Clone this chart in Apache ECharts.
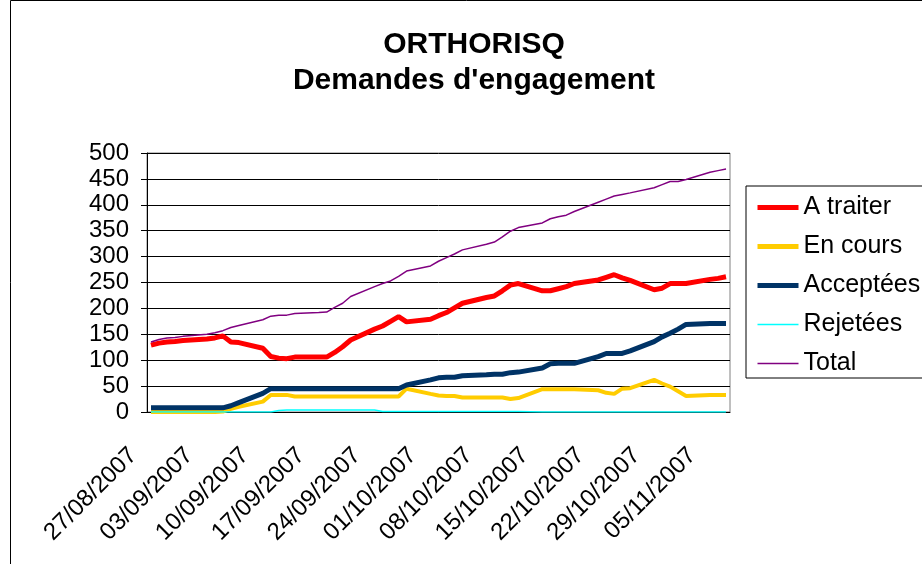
<!DOCTYPE html>
<html>
<head>
<meta charset="utf-8">
<script src="https://cdn.jsdelivr.net/npm/echarts@6/dist/echarts.min.js"></script>
<style>
html, body { margin: 0; padding: 0; background: #fff; }
#chart { width: 922px; height: 564px; }
</style>
</head>
<body>
<div id="chart"></div>
<script>
// one category per day, 27/08/2007 -> 07/11/2007 ; weekends have no value (null)
const startDay = Date.UTC(2007, 7, 27);
const nbDays = 73;
const dates = [];
for (let i = 0; i < nbDays; i++) {
    const d = new Date(startDay + i * 86400000);
    const dd = String(d.getUTCDate()).padStart(2, '0');
    const mm = String(d.getUTCMonth() + 1).padStart(2, '0');
    dates.push(dd + '/' + mm + '/' + d.getUTCFullYear());
}

const seriesNames = ['A traiter', 'En cours', 'Acceptées', 'Rejetées', 'Total'];

const aTraiter = [
    129, 133, 135, 136, 138, null, null,
    141, 143, 147, 135, 134, null, null,
    123, 107, 104, 103, 106, null, null,
    106, 106, 115, 126, 139, null, null,
    160, 166, 175, 184, 174, null, null,
    179, 186, 192, 201, 210, null, null,
    221, 224, 234, 245, 248, null, null,
    234, 234, 238, 242, 248, null, null,
    255, 260, 265, 259, 254, null, null,
    236, 239, 248, 248, 248, null, null,
    256, 258, 261
];
const enCours = [
    0, 0, 0, 0, 0, null, null,
    0, 0, 1, 6, 10, null, null,
    20, 33, 33, 33, 30, null, null,
    30, 30, 30, 30, 30, null, null,
    30, 30, 30, 30, 45, null, null,
    35, 32, 31, 31, 28, null, null,
    28, 28, 28, 25, 27, null, null,
    44, 44, 44, 44, 44, null, null,
    42, 37, 35, 45, 46, null, null,
    62, 55, 49, 40, 31, null, null,
    33, 33, 33
];
const acceptees = [
    8, 8, 8, 8, 8, null, null,
    8, 8, 8, 12, 18, null, null,
    36, 45, 45, 45, 45, null, null,
    45, 45, 45, 45, 45, null, null,
    45, 45, 45, 45, 52, null, null,
    62, 66, 67, 67, 70, null, null,
    72, 73, 73, 76, 77, null, null,
    85, 93, 94, 94, 94, null, null,
    107, 113, 113, 113, 118, null, null,
    136, 145, 152, 160, 169, null, null,
    171, 171, 171
];
const rejetees = [
    0, 0, 0, 0, 0, null, null,
    0, 0, 0, 0, 0, null, null,
    0, 0, 3, 4, 4, null, null,
    4, 4, 4, 4, 4, null, null,
    4, 1, 1, 1, 1, null, null,
    1, 1, 1, 1, 1, null, null,
    1, 1, 1, 1, 1, null, null,
    0, 0, 0, 0, 0, null, null,
    0, 0, 0, 0, 0, null, null,
    0, 0, 0, 0, 0, null, null,
    0, 0, 0
];
const total = [
    135, 140, 143, 144, 146, null, null,
    150, 153, 157, 163, 167, null, null,
    178, 185, 187, 187, 190, null, null,
    192, 193, 202, 210, 223, null, null,
    242, 248, 253, 262, 272, null, null,
    282, 291, 298, 305, 313, null, null,
    324, 328, 338, 349, 356, null, null,
    365, 373, 377, 380, 387, null, null,
    405, 411, 417, 420, 423, null, null,
    433, 439, 445, 445, 449, null, null,
    463, 466, 469
];

const FONT = '"Liberation Sans", Arial, sans-serif';
const colors = ['#ff0000', '#ffcc00', '#003366', '#00ffff', '#800080'];
const widths = [5, 4, 5, 1.5, 1.5];
const values = [aTraiter, enCours, acceptees, rejetees, total];

let myChart = echarts.init(document.getElementById('chart'));
myChart.setOption({
    animation: false,
    backgroundColor: '#fff',
    graphic: [
        {
            type: 'rect', silent: true,
            shape: { x: 10.5, y: 0.5, width: 1000, height: 1000 },
            style: { fill: 'none', stroke: '#000', lineWidth: 1 }
        },
        {
            type: 'text', x: 474, y: 45,
            style: {
                text: 'ORTHORISQ', fill: '#000',
                font: 'bold 30px ' + FONT,
                align: 'center', verticalAlign: 'middle',
                textAlign: 'center', textVerticalAlign: 'middle'
            }
        },
        {
            type: 'text', x: 474, y: 81,
            style: {
                text: "Demandes d'engagement", fill: '#000',
                font: 'bold 30px ' + FONT,
                align: 'center', verticalAlign: 'middle',
                textAlign: 'center', textVerticalAlign: 'middle'
            }
        }
    ],
    legend: {
        orient: 'vertical',
        left: 746,
        top: 186,
        padding: [9, 4, 2, 9],
        itemGap: 14,
        itemWidth: 41,
        itemHeight: 14,
        borderColor: '#000',
        borderWidth: 1,
        backgroundColor: '#fff',
        itemStyle: { opacity: 0 },
        textStyle: { fontSize: 25, color: '#000', fontFamily: FONT },
        data: seriesNames.map((name, k) => ({
            name: name,
            lineStyle: { width: widths[k] < 2 ? 1.5 : 5, color: colors[k] }
        }))
    },
    grid: {
        left: 147, right: 192, top: 153, bottom: 152,
        outerBoundsMode: 'none',
        containLabel: false,
        show: true, borderColor: '#808080', borderWidth: 1
    },
    xAxis: {
        type: 'category',
        data: dates,
        boundaryGap: true,
        axisLine: { lineStyle: { color: '#000', width: 1 } },
        axisTick: { interval: 6, length: 6, lineStyle: { color: '#000' } },
        axisLabel: {
            interval: 6, rotate: 45, margin: 22,
            padding: [0, 25, 0, 0],
            fontSize: 24, color: '#000', fontFamily: FONT
        },
        splitLine: { show: false }
    },
    yAxis: {
        type: 'value',
        min: 0, max: 500, interval: 50,
        axisLine: { show: true, lineStyle: { color: '#000' } },
        axisTick: { show: true, length: 6, lineStyle: { color: '#000' } },
        axisLabel: { margin: 18, fontSize: 24, color: '#000', fontFamily: FONT },
        splitLine: { lineStyle: { color: '#000', width: 1 } }
    },
    series: seriesNames.map((name, k) => ({
        name: name,
        type: 'line',
        data: values[k],
        symbol: 'none',
        connectNulls: true,
        smooth: false,
        color: colors[k],
        lineStyle: { color: colors[k], width: widths[k] },
        itemStyle: { color: colors[k] }
    }))
});
window.addEventListener('resize', () => myChart.resize());
</script>
</body>
</html>
